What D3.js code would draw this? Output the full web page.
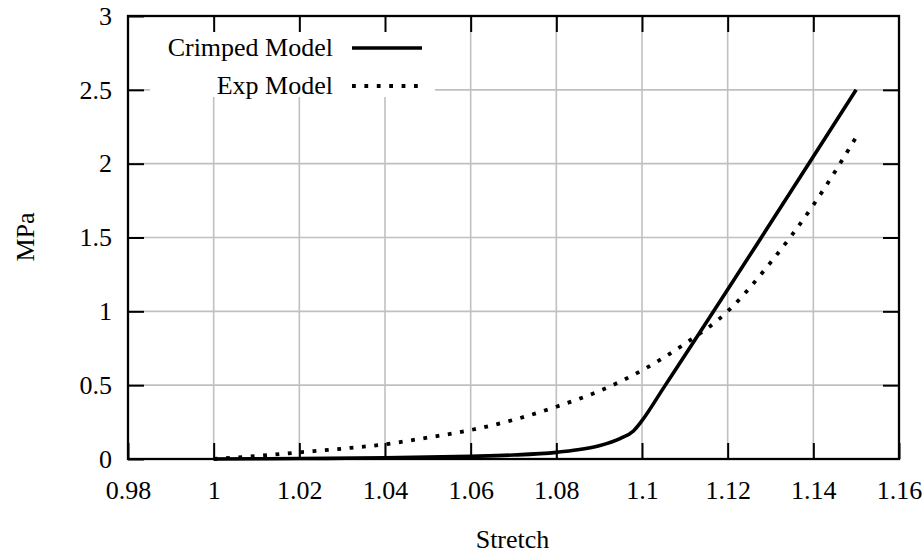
<!DOCTYPE html>
<html>
<head>
<meta charset="utf-8">
<script src="https://cdn.jsdelivr.net/npm/d3@7.9.0/dist/d3.min.js"></script>
<style>
  body { margin: 0; background: #fff; }
  svg, svg text { font-family: "Liberation Serif", "Tinos", "Nimbus Roman", "Times New Roman", "DejaVu Serif", serif; }
  svg { display: block; }
  .tick text { font-size: 26px; fill: #000; }
</style>
</head>
<body>
<svg id="chart" width="924" height="555"></svg>
<script>
// tick values
const xTicks = [0.98, 1.0, 1.02, 1.04, 1.06, 1.08, 1.1, 1.12, 1.14, 1.16];
const yTicks = [0, 0.5, 1, 1.5, 2, 2.5, 3];

// Crimped Model
const crimpedStretch = [1.0, 1.02, 1.04, 1.06, 1.07, 1.08, 1.085, 1.09, 1.095, 1.098, 1.1, 1.105, 1.15];
const crimpedStress = [0, 0.003, 0.008, 0.018, 0.027, 0.045, 0.062, 0.09, 0.14, 0.19, 0.26, 0.48, 2.5];

// Exp Model
const expStretch = [1.0, 1.01, 1.02, 1.03, 1.04, 1.05, 1.06, 1.07, 1.08, 1.09, 1.1, 1.11, 1.12, 1.13, 1.14, 1.15];
const expStress = [0, 0.02, 0.045, 0.07, 0.1, 0.145, 0.196, 0.265, 0.354, 0.46, 0.6, 0.78, 1.0, 1.33, 1.72, 2.18];

const seriesNames = ['Crimped Model', 'Exp Model'];

const svg = d3.select('#chart');
const plotLeft = 128, plotRight = 899, plotTop = 16, plotBottom = 459;
const serif = '"Liberation Serif", "Tinos", "Nimbus Roman", "Times New Roman", "DejaVu Serif", serif';

const x = d3.scaleLinear().domain([0.98, 1.16]).range([plotLeft, plotRight]);
const y = d3.scaleLinear().domain([0, 3]).range([plotBottom, plotTop]);

const fmt = (d) => String(+d.toFixed(2));

// grid
const grid = svg.append('g').attr('stroke', '#c0c0c0').attr('stroke-width', 1.6);
grid.selectAll('line.vx')
  .data(xTicks.slice(1, -1))
  .join('line')
  .attr('class', 'vx')
  .attr('x1', (d) => x(d)).attr('x2', (d) => x(d))
  .attr('y1', plotTop).attr('y2', plotBottom);
grid.selectAll('line.hy')
  .data(yTicks.slice(1, -1))
  .join('line')
  .attr('class', 'hy')
  .attr('x1', plotLeft).attr('x2', plotRight)
  .attr('y1', (d) => y(d)).attr('y2', (d) => y(d));

// key background hides the grid
svg.append('rect')
  .attr('x', 150).attr('y', plotTop)
  .attr('width', 285).attr('height', 81)
  .attr('fill', '#fff');

// curves
const line = d3.line()
  .x((d) => x(d[0]))
  .y((d) => y(d[1]))
  .curve(d3.curveMonotoneX);

svg.append('path')
  .datum(d3.zip(crimpedStretch, crimpedStress))
  .attr('d', line)
  .attr('fill', 'none')
  .attr('stroke', '#000')
  .attr('stroke-width', 3.6);

svg.append('path')
  .datum(d3.zip(expStretch, expStress))
  .attr('d', line)
  .attr('fill', 'none')
  .attr('stroke', '#000')
  .attr('stroke-width', 3.8)
  .attr('stroke-dasharray', '3.8 8.6');

// axes (ticks point inward)
function styleAxis(g) {
  g.select('.domain').remove();
  g.selectAll('.tick line').attr('stroke', '#000').attr('stroke-width', 2);
  g.attr('font-family', serif).attr('font-size', 26);
}

svg.append('g')
  .attr('transform', `translate(0,${plotBottom})`)
  .call(d3.axisBottom(x).tickValues(xTicks).tickFormat(fmt).tickSizeInner(-16).tickSizeOuter(0).tickPadding(22))
  .call(styleAxis);

svg.append('g')
  .attr('transform', `translate(0,${plotTop})`)
  .call(d3.axisTop(x).tickValues(xTicks.slice(1, -1)).tickFormat('').tickSizeInner(-16).tickSizeOuter(0))
  .call(styleAxis);

svg.append('g')
  .attr('transform', `translate(${plotLeft},0)`)
  .call(d3.axisLeft(y).tickValues(yTicks).tickFormat(fmt).tickSizeInner(-16).tickSizeOuter(0).tickPadding(16))
  .call(styleAxis);

svg.append('g')
  .attr('transform', `translate(${plotRight},0)`)
  .call(d3.axisRight(y).tickValues(yTicks.slice(1, -1)).tickFormat('').tickSizeInner(-16).tickSizeOuter(0))
  .call(styleAxis);

// frame
svg.append('rect')
  .attr('x', plotLeft).attr('y', plotTop)
  .attr('width', plotRight - plotLeft).attr('height', plotBottom - plotTop)
  .attr('fill', 'none')
  .attr('stroke', '#000')
  .attr('stroke-width', 2.3);

// axis titles
svg.append('text')
  .attr('x', (plotLeft + plotRight) / 2 - 1)
  .attr('y', 548)
  .attr('text-anchor', 'middle')
  .attr('font-family', serif)
  .attr('font-size', 26)
  .text('Stretch');

svg.append('text')
  .attr('transform', 'translate(34,237) rotate(-90)')
  .attr('text-anchor', 'middle')
  .attr('font-family', serif)
  .attr('font-size', 26)
  .text('MPa');

// key
const keyRows = [48, 86];
const key = svg.append('g');
seriesNames.forEach((name, i) => {
  key.append('text')
    .attr('x', 333)
    .attr('y', keyRows[i])
    .attr('dy', '0.32em')
    .attr('text-anchor', 'end')
    .attr('font-family', serif)
    .attr('font-size', 26)
    .text(name);
  const sample = key.append('line')
    .attr('x1', 352).attr('x2', 422)
    .attr('y1', keyRows[i]).attr('y2', keyRows[i])
    .attr('stroke', '#000');
  if (i === 0) {
    sample.attr('stroke-width', 3.6);
  } else {
    sample.attr('stroke-width', 3.8).attr('stroke-dasharray', '3.8 8.6');
  }
});
</script>
</body>
</html>
